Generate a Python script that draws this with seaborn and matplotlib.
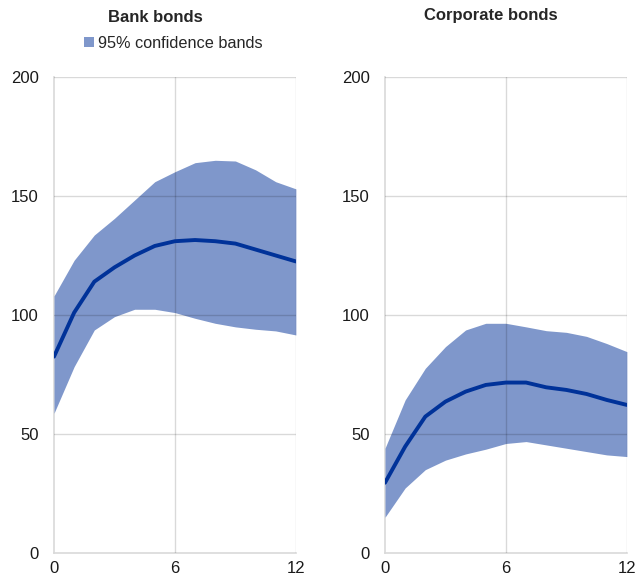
import numpy as np
import pandas as pd
import matplotlib
matplotlib.use("Agg")
import matplotlib.pyplot as plt
from matplotlib.patches import Patch
import seaborn as sns

# horizon (months)
horizon = list(range(13))

# Bank bonds
bank_mean = [82.5, 101, 114, 120, 125, 129, 131, 131.5, 131, 130, 127.5, 125, 122.5]
bank_upper = [108, 123, 133.6, 140.6, 148.3, 156, 160.2, 164, 165, 164.7, 161, 156, 153]
bank_lower = [58.7, 78.3, 93.7, 99.3, 102.4, 102.4, 101, 98.6, 96.5, 95, 94, 93.3, 91.6]

# Corporate bonds
corp_mean = [29.5, 44.7, 57.3, 63.6, 67.8, 70.6, 71.6, 71.6, 69.6, 68.5, 66.8, 64.3, 62.2]
corp_upper = [44, 64.3, 77.6, 86.7, 93.7, 96.5, 96.5, 95, 93.4, 92.7, 91, 88, 84.6]
corp_lower = [15, 27.3, 35, 39, 41.6, 43.6, 46, 46.8, 45.4, 44, 42.6, 41.2, 40.5]

titles = ["Bank bonds", "Corporate bonds"]
xticks = [0, 6, 12]
yticks = [0, 50, 100, 150, 200]

line_col = "#003299"
band_col = "#7F97CB"
grid_col = "#D9D9D9"

sns.set_style("white")
plt.rcParams["font.family"] = ["Liberation Sans", "DejaVu Sans"]

fig = plt.figure(figsize=(6.39, 5.79), dpi=100)
ax1 = fig.add_axes([0.0845, 0.045, 0.3785, 0.822])
ax2 = fig.add_axes([0.6025, 0.045, 0.3785, 0.822])

panels = [(ax1, bank_mean, bank_upper, bank_lower),
          (ax2, corp_mean, corp_upper, corp_lower)]

for ax, mean, upper, lower in panels:
    df = pd.DataFrame({"h": horizon, "mean": mean})
    ax.fill_between(horizon, lower, upper, color=band_col, linewidth=0, zorder=1)
    sns.lineplot(data=df, x="h", y="mean", ax=ax, color=line_col, linewidth=2.8, zorder=3)
    ax.set_xlim(0, 12)
    ax.set_ylim(0, 200)
    ax.set_xticks(xticks)
    ax.set_yticks(yticks)
    ax.set_xlabel("")
    ax.set_ylabel("")
    # translucent grid so it shows darker over the band
    ax.grid(True, color="black", alpha=0.15, linewidth=1.0, zorder=2)
    ax.set_axisbelow(False)
    for s in ["top", "right"]:
        ax.spines[s].set_visible(False)
    for s in ["left", "bottom"]:
        ax.spines[s].set_color(grid_col)
        ax.spines[s].set_linewidth(1.2)
        ax.spines[s].set_zorder(0.5)
    ax.tick_params(axis="x", length=0, labelsize=12, colors="#1a1a1a", pad=6)
    ax.tick_params(axis="y", length=0, labelsize=12, colors="#1a1a1a", pad=11)
    ax.get_xgridlines()[0].set_visible(False)
    ax.get_ygridlines()[0].set_visible(False)

fig.text(0.2426, 0.969, titles[0], ha="center", va="center", fontsize=12, fontweight="bold")
fig.text(0.768, 0.974, titles[1], ha="center", va="center", fontsize=12, fontweight="bold")

handle = Patch(facecolor=band_col, edgecolor="none")
fig.legend([handle], ["95% confidence bands"], loc="center", bbox_to_anchor=(0.271, 0.925),
           frameon=False, fontsize=11.7, handlelength=0.6, handleheight=0.6, handletextpad=0.25)

fig.savefig("out.png", dpi=100)
